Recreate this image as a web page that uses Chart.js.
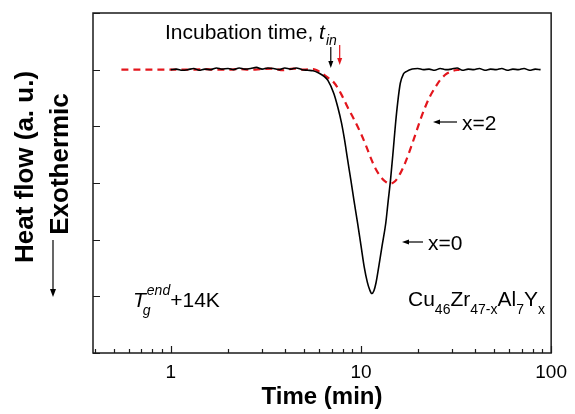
<!DOCTYPE html>
<html>
<head>
<meta charset="utf-8">
<script src="https://cdn.jsdelivr.net/npm/chart.js@4.4.1/dist/chart.umd.min.js"></script>
<style>
  html, body { margin: 0; padding: 0; background: #fff; }
  #chart { display: block; }
</style>
</head>
<body>
<canvas id="chart" width="575" height="414"></canvas>
<script>
// x = 0 curve (solid black): time in min, heat flow in arbitrary units
const timeX0 = [1.00, 1.07, 1.15, 1.23, 1.32, 1.41, 1.51, 1.62, 1.74, 1.86, 2.00, 2.14, 2.29, 2.45, 2.63,
  2.82, 3.02, 3.24, 3.47, 3.72, 3.98, 4.27, 4.57, 4.90, 5.25, 5.60, 6.00, 6.40, 6.70, 7.20, 7.55, 7.90,
  8.20, 8.50, 8.85, 9.20, 9.60, 10.0, 10.4, 10.8, 11.1, 11.4, 11.7, 12.0, 12.4, 12.9, 13.5, 13.9, 14.3,
  14.8, 15.2, 15.6, 16.1, 16.7, 17.4, 18.6, 19.9, 21.3, 22.8, 24.4, 26.1, 27.9, 29.9, 32.0, 34.2, 36.6,
  39.2, 41.9, 44.9, 48.0, 51.4, 55.0, 58.8, 62.9, 67.3, 72.0, 77.1, 82.5, 88.0];
const heatX0 = [5.00, 5.01, 4.99, 5.00, 5.02, 4.99, 5.01, 5.00, 5.03, 5.01, 5.02, 5.00, 5.03, 5.01, 5.02,
  5.04, 5.01, 5.03, 5.02, 5.00, 5.03, 5.01, 5.03, 5.00, 4.99, 4.98, 4.94, 4.88, 4.81, 4.58, 4.34, 4.06,
  3.76, 3.42, 3.05, 2.68, 2.29, 1.90, 1.52, 1.25, 1.12, 1.05, 1.10, 1.24, 1.52, 1.88, 2.29, 2.68, 3.05,
  3.60, 4.05, 4.42, 4.76, 4.92, 4.97, 5.01, 5.02, 5.00, 5.01, 4.99, 5.02, 5.00, 5.01, 5.03, 4.99, 5.01,
  5.00, 5.02, 4.99, 5.01, 5.00, 5.02, 4.99, 5.01, 5.00, 5.02, 4.99, 5.01, 5.00];

// x = 2 curve (dashed red)
const timeX2 = [0.55, 0.62, 0.70, 0.80, 0.90, 1.00, 1.15, 1.30, 1.50, 1.70, 2.00, 2.30, 2.60, 3.00, 3.40,
  3.90, 4.40, 5.00, 5.60, 6.20, 6.70, 7.26, 7.90, 8.50, 9.20, 10.0, 10.6, 11.2, 11.9, 12.7, 13.5, 14.3,
  15.1, 16.1, 17.1, 18.1, 19.3, 20.5, 21.7, 23.0, 24.5, 26.0, 28.0, 30.5, 33.0];
const heatX2 = [5.00, 5.00, 5.00, 5.00, 5.00, 5.00, 5.00, 5.00, 5.01, 5.00, 5.00, 5.01, 5.00, 5.01, 5.02,
  4.99, 5.02, 5.00, 5.01, 4.94, 4.86, 4.76, 4.56, 4.34, 4.12, 3.87, 3.67, 3.46, 3.26, 3.11, 3.02, 2.99,
  3.03, 3.17, 3.36, 3.58, 3.85, 4.11, 4.33, 4.52, 4.68, 4.81, 4.92, 4.98, 5.00];

const xTickLabels = [1, 10, 100];
const yTicks = [0, 1, 2, 3, 4, 5, 6];
const incubationX0 = 6.94;
const incubationX2 = 7.73;

const FONT = '"Liberation Sans", Arial, sans-serif';
const RED = '#e3161d';
Chart.defaults.font.family = FONT;

function arrow(ctx, x1, y1, x2, y2, color, head, half) {
    const ang = Math.atan2(y2 - y1, x2 - x1);
    const c = Math.cos(ang), s = Math.sin(ang);
    ctx.strokeStyle = color;
    ctx.fillStyle = color;
    ctx.lineWidth = 1.2;
    ctx.beginPath();
    ctx.moveTo(x1, y1);
    ctx.lineTo(x2 - c * head * 0.7, y2 - s * head * 0.7);
    ctx.stroke();
    ctx.beginPath();
    ctx.moveTo(x2, y2);
    ctx.lineTo(x2 - head * c + half * s, y2 - head * s - half * c);
    ctx.lineTo(x2 - head * c - half * s, y2 - head * s + half * c);
    ctx.closePath();
    ctx.fill();
}

function drawParts(ctx, x, baseline, parts) {
    parts.forEach(p => {
        ctx.font = (p.italic ? 'italic ' : '') + p.size + 'px ' + FONT;
        ctx.fillText(p.text, x, baseline + (p.dy || 0));
        x += ctx.measureText(p.text).width;
    });
    return x;
}

const decorations = {
    id: 'decorations',
    afterDraw(chart) {
        const { ctx, chartArea: a, scales: { x, y } } = chart;
        ctx.save();
        ctx.strokeStyle = '#1a1a1a';
        ctx.lineWidth = 1.5;
        ctx.strokeRect(a.left, a.top, a.right - a.left, a.bottom - a.top);

        // inward ticks
        ctx.lineWidth = 1.2;
        ctx.beginPath();
        yTicks.forEach(v => {
            const py = Math.round(y.getPixelForValue(v)) + 0.5;
            ctx.moveTo(a.left, py);
            ctx.lineTo(a.left + 7, py);
        });
        [0.1, 1, 10].forEach(d => {
            for (let k = 1; k <= 10; k++) {
                const v = k * d;
                if (v < x.min || v > x.max) continue;
                const px = Math.round(x.getPixelForValue(v)) + 0.5;
                const len = xTickLabels.includes(Math.round(v * 1000) / 1000) ? 7 : 4;
                ctx.moveTo(px, a.bottom);
                ctx.lineTo(px, a.bottom - len);
            }
        });
        ctx.stroke();

        ctx.fillStyle = '#000';
        ctx.textAlign = 'left';
        ctx.textBaseline = 'alphabetic';

        // y axis titles
        ctx.save();
        ctx.translate(33, 167);
        ctx.rotate(-Math.PI / 2);
        ctx.textAlign = 'center';
        ctx.font = 'bold 26px ' + FONT;
        ctx.fillText('Heat flow (a. u.)', 0, 0);
        ctx.restore();
        ctx.save();
        ctx.translate(68, 164);
        ctx.rotate(-Math.PI / 2);
        ctx.textAlign = 'center';
        ctx.font = 'bold 26px ' + FONT;
        ctx.fillText('Exothermic', 0, 0);
        ctx.restore();
        arrow(ctx, 53, 240, 53, 297, '#000', 8, 3);

        // incubation time label and arrows
        ctx.fillStyle = '#000';
        const ex = drawParts(ctx, 165, 39, [{ text: 'Incubation time, ', size: 21 }, { text: 't', size: 21, italic: true }]);
        drawParts(ctx, ex + 1, 45, [{ text: 'in', size: 14, italic: true }]);
        arrow(ctx, x.getPixelForValue(incubationX0), 47, x.getPixelForValue(incubationX0), 68, '#000', 7, 2.5);
        arrow(ctx, x.getPixelForValue(incubationX2), 45, x.getPixelForValue(incubationX2), 65, RED, 7, 2.5);

        // curve labels
        ctx.fillStyle = '#000';
        ctx.font = '21px ' + FONT;
        ctx.fillText('x=2', 462, 130);
        arrow(ctx, 457, 122, 433, 122, '#000', 7, 2.5);
        ctx.fillStyle = '#000';
        ctx.fillText('x=0', 428, 250);
        arrow(ctx, 423, 242, 402, 242, '#000', 7, 2.5);

        // T_g^end + 14K
        ctx.fillStyle = '#000';
        ctx.font = 'italic 21px ' + FONT;
        ctx.fillText('T', 133, 307);
        const tw = ctx.measureText('T').width;
        ctx.font = 'italic 14px ' + FONT;
        ctx.fillText('g', 133 + tw - 3, 315);
        ctx.fillText('end', 133 + tw + 1, 295);
        const ew = ctx.measureText('end').width;
        ctx.font = '21px ' + FONT;
        ctx.fillText('+14K', 133 + tw + ew + 1, 307);

        // composition
        drawParts(ctx, 408, 306, [
            { text: 'Cu', size: 21 }, { text: '46', size: 14, dy: 8 },
            { text: 'Zr', size: 21 }, { text: '47-x', size: 14, dy: 8 },
            { text: 'Al', size: 21 }, { text: '7', size: 14, dy: 8 },
            { text: 'Y', size: 21 }, { text: 'x', size: 14, dy: 8 }
        ]);
        ctx.restore();
    }
};

const ctxMain = document.getElementById('chart').getContext('2d');
new Chart(ctxMain, {
    type: 'scatter',
    data: {
        datasets: [{
            label: 'x=0',
            data: timeX0.map((t, i) => ({ x: t, y: heatX0[i] })),
            showLine: true,
            borderColor: '#000',
            borderWidth: 1.6,
            pointRadius: 0,
            cubicInterpolationMode: 'monotone'
        }, {
            label: 'x=2',
            data: timeX2.map((t, i) => ({ x: t, y: heatX2[i] })),
            showLine: true,
            borderColor: RED,
            borderWidth: 2.2,
            borderDash: [7, 5],
            pointRadius: 0,
            cubicInterpolationMode: 'monotone'
        }]
    },
    options: {
        responsive: false,
        animation: false,
        layout: { padding: { top: 13, right: 19, left: 0, bottom: 0 } },
        plugins: { legend: { display: false }, tooltip: { enabled: false } },
        scales: {
            x: {
                type: 'logarithmic',
                min: 0.39,
                max: 100,
                grid: { display: false, drawTicks: false },
                border: { display: false },
                afterBuildTicks: s => { s.ticks = xTickLabels.map(v => ({ value: v })); },
                ticks: {
                    callback: v => String(v),
                    font: { size: 19 },
                    color: '#000',
                    padding: 8,
                    maxRotation: 0,
                    autoSkip: false
                },
                title: {
                    display: true,
                    text: 'Time (min)',
                    color: '#000',
                    font: { size: 24, weight: 'bold', lineHeight: 1 },
                    padding: { top: 0, bottom: 5 }
                },
                afterFit: s => { s.height = 61; }
            },
            y: {
                min: 0,
                max: 6,
                grid: { display: false, drawTicks: false },
                border: { display: false },
                ticks: { display: false },
                afterBuildTicks: s => { s.ticks = yTicks.map(v => ({ value: v })); },
                afterFit: s => { s.width = 93; }
            }
        }
    },
    plugins: [decorations]
});
</script>
</body>
</html>
